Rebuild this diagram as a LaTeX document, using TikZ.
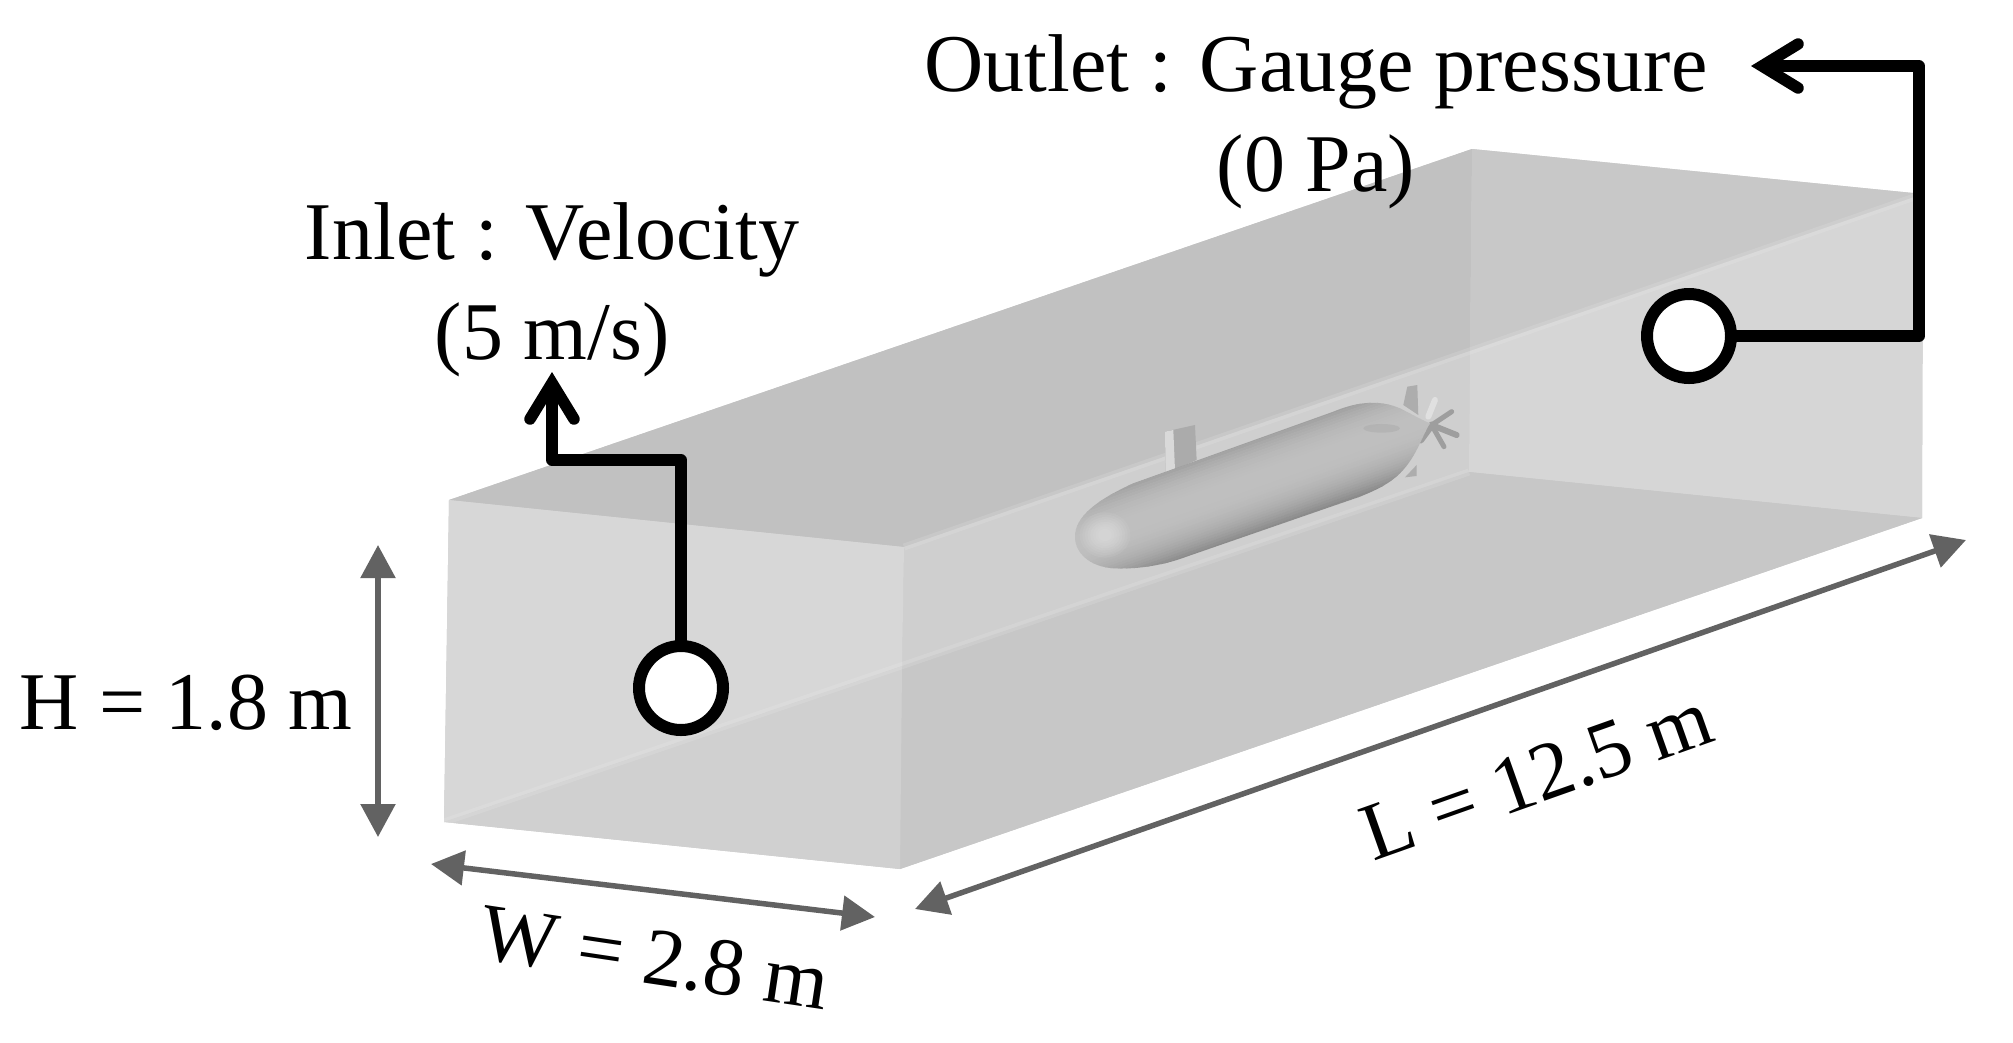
\documentclass[tikz,border=0pt]{standalone}
\usepackage{fontspec}
\setmainfont{Liberation Serif}
\usetikzlibrary{arrows.meta}
\definecolor{dimgray}{HTML}{626262}
\tikzset{
  x=1pt,y=-1pt,
  face/.style={draw=none},
  lbl/.style={font=\fontsize{82}{100}\selectfont,text=black,inner sep=0pt,align=center},
  port/.style={circle,draw=black,fill=white,line width=12pt,minimum size=84pt,inner sep=0pt},
  bc/.style={draw=black,line width=11.5pt,line join=round,line cap=round,-{Straight Barb[length=36pt,width=44pt,round,line join=miter]}},
  dim/.style={draw=dimgray,line width=5.5pt,{Triangle[length=33pt,width=34pt]}-{Triangle[length=33pt,width=34pt]}},
  glow/.style={draw=white,opacity=.12,line width=7pt},
}
\begin{document}
\begin{tikzpicture}
\useasboundingbox (0,0) rectangle (2013,1042);
% box corners
\coordinate (A) at (449,500); \coordinate (B) at (444,822);
\coordinate (C) at (904,547); \coordinate (D) at (900,869);
\coordinate (E) at (1472,149); \coordinate (F) at (1923,194);
\coordinate (G) at (1922,518); \coordinate (H) at (1469,472);
\coordinate (P) at (902,666); \coordinate (Q) at (1470,351);
% faces
\fill[face,fill=black!20] (A)--(E)--(F)--(G)--(D)--(B)--cycle;
\fill[face,fill=black!24.5] (A)--(E)--(Q)--(C)--cycle;
\fill[face,fill=black!21.5] (E)--(F)--(Q)--cycle;
\fill[face,fill=black!19] (C)--(Q)--(H)--(P)--cycle;
\fill[face,fill=black!16] (Q)--(F)--(G)--(H)--cycle;
\fill[face,fill=black!22] (P)--(H)--(G)--(D)--cycle;
\fill[face,fill=black!15.5] (A)--(C)--(P)--(B)--cycle;
\fill[face,fill=black!18.5] (B)--(P)--(D)--cycle;
\draw[glow] (C)--(F);
\draw[glow] (B)--(H);
% submarine
\begin{scope}[shift={(1000,340)},x=0.3333pt,y=-0.3333pt]
  \fill[black!32] (1210,195) -- (1222,140) -- (1252,135) -- (1255,225) -- cycle;
  \fill[black!32] (1215,412) -- (1250,375) -- (1250,408) -- cycle;
  \fill[black!33] (495,275) -- (585,255) -- (590,360) -- (497,400) -- cycle;
  \fill[black!15] (495,275) -- (520,270) -- (525,390) -- (497,400) -- cycle;
  \draw[black!38,line width=5pt,line cap=round] (1295,255) -- (1355,215);
  \draw[black!38,line width=6pt,line cap=round] (1295,255) -- (1370,285);
  \draw[black!38,line width=5pt,line cap=round] (1295,255) -- (1332,320);
  \draw[black!12,line width=6pt,line cap=round] (1285,230) -- (1305,180);
  \draw[black!38,line width=7pt,line cap=round] (1295,255) -- (1262,300);
  \begin{scope}
    \clip (225,590) .. controls (225,530) and (290,480) .. (400,430) -- (1000,215)
      .. controls (1060,190) and (1130,175) .. (1200,205)
      .. controls (1240,225) and (1265,240) .. (1290,250)
      .. controls (1265,290) and (1250,350) .. (1200,400)
      .. controls (1170,430) and (1130,450) .. (1080,470) -- (560,650)
      .. controls (480,680) and (400,688) .. (340,685)
      .. controls (270,680) and (225,640) .. (225,590) -- cycle;
    \foreach \d in {-160,-152,...,160}{
      \pgfmathsetmacro{\c}{25+22*(abs(\d+10)/150)^2.4}
      \fill[black!\c,shift={(757,432)},rotate=19.5] (-700,\d) rectangle (700,\d+9);
    }
    \foreach \r in {20,28,...,76}{
      \fill[white,opacity=.06] (315,585) ellipse [x radius=\r,y radius=\r*.9];
    }
    \fill[black!33,opacity=.5] (1145,265) ellipse [x radius=55,y radius=13];
  \end{scope}
\end{scope}
% dimension arrows
\coordinate (h1) at (378,545); \coordinate (h2) at (378,837);
\coordinate (w1) at (431,864); \coordinate (w2) at (875,917);
\coordinate (l1) at (915,909); \coordinate (l2) at (1966,540);
\draw[dim] (h1) -- (h2);
\draw[dim] (w1) -- (w2);
\draw[dim] (l1) -- (l2);
% boundary callouts
\node[port] (inletport) at (681,688) {};
\node[port] (outletport) at (1689,336) {};
\coordinate (inbend) at (681,460); \coordinate (inmid) at (552,460); \coordinate (intip) at (552,372);
\coordinate (outb1) at (1919,336); \coordinate (outb2) at (1919,66); \coordinate (outtip) at (1751,66);
\draw[bc] (inletport) -- (inbend) -- (inmid) -- (intip);
\draw[bc] (outletport) -- (outb1) -- (outb2) -- (outtip);
% labels
\node[lbl] (outletlabel) at (1316,122) {Outlet : Gauge pressure\\(0 Pa)};
\node[lbl] (inletlabel) at (552,290) {Inlet : Velocity\\(5 m/s)};
\node[lbl] (hlabel) at (186,703) {H = 1.8 m};
\node[lbl,rotate=-8.5] (wlabel) at (655,958) {W = 2.8 m};
\node[lbl,rotate=19.5] (llabel) at (1537,776) {L = 12.5 m};
\end{tikzpicture}
\end{document}
